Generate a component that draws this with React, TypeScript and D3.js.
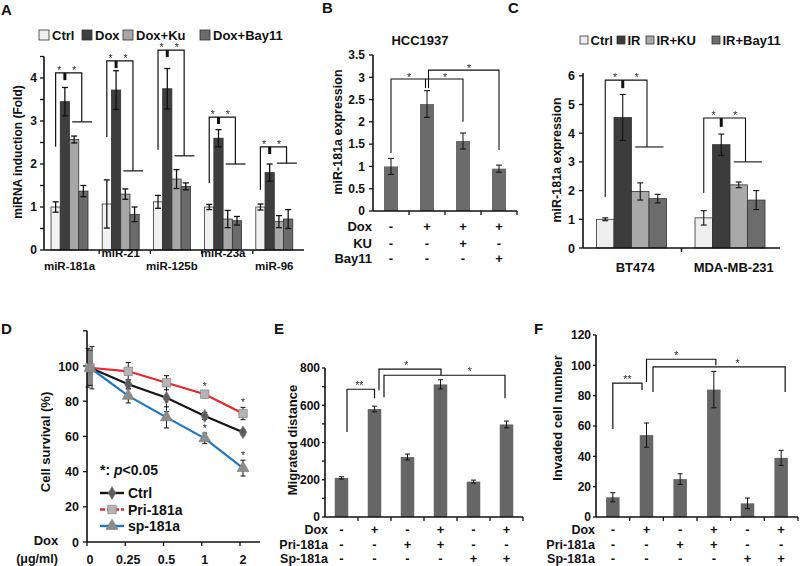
import React from "react";
import * as d3 from "d3";

const FONT = "'Liberation Sans', Arial, Helvetica, sans-serif";

// ---------- Panel A data ----------
const aGroups = ["miR-181a", "miR-21", "miR-125b", "miR-23a", "miR-96"];
const aSeries = ["Ctrl", "Dox", "Dox+Ku", "Dox+Bay11"];
const aCtrl = [1.0, 1.07, 1.12, 1.0, 1.0];
const aDox = [3.45, 3.72, 3.75, 2.6, 1.8];
const aKu = [2.57, 1.3, 1.65, 0.72, 0.66];
const aBay = [1.37, 0.83, 1.48, 0.68, 0.72];
const aCtrlErr = [0.12, 0.56, 0.15, 0.06, 0.07];
const aDoxErr = [0.33, 0.45, 0.47, 0.2, 0.2];
const aKuErr = [0.08, 0.12, 0.22, 0.2, 0.14];
const aBayErr = [0.13, 0.17, 0.08, 0.1, 0.22];
const aTicks = [0, 1, 2, 3, 4];
// significance bracket levels (data units)
const aBrTop = [4.12, 4.4, 4.65, 3.09, 2.4];
const aBrLeft = [2.4, 2.63, 2.33, 1.56, 1.4];
const aBrDash = [3.95, 4.23, 4.49, 2.93, 2.23];
const aBrRight = [2.98, 1.84, 2.19, 2.0, 2.02];

// ---------- Panel B data ----------
const bMeans = [1.0, 2.4, 1.57, 0.95];
const bErr = [0.18, 0.3, 0.18, 0.08];
const bDox = ["-", "+", "+", "+"];
const bKU = ["-", "-", "+", "-"];
const bBay = ["-", "-", "-", "+"];
const bTicks = [0, 0.5, 1, 1.5, 2, 2.5, 3, 3.5];

// ---------- Panel C data ----------
const cGroups = ["BT474", "MDA-MB-231"];
const cSeries = ["Ctrl", "IR", "IR+KU", "IR+Bay11"];
const cCtrl = [1.0, 1.05];
const cIR = [4.55, 3.6];
const cKU = [1.97, 2.2];
const cBay = [1.72, 1.67];
const cCtrlErr = [0.05, 0.25];
const cIRErr = [0.8, 0.37];
const cKUErr = [0.3, 0.1];
const cBayErr = [0.15, 0.33];
const cTicks = [0, 1, 2, 3, 4, 5, 6];
const cBrTop = [5.85, 4.53];
const cBrLeft = [1.78, 1.92];
const cBrDash = [5.57, 4.22];
const cBrRight = [3.52, 3.0];

// ---------- Panel D data ----------
const dDoses = ["0", "0.25", "0.5", "1", "2"];
const dCtrl = [99, 89.6, 82, 71.6, 62.3];
const dPri = [99, 97, 90.5, 84, 73];
const dSp = [99, 83, 70.8, 58.9, 42];
const dCtrlErr = [11, 2.5, 8, 2, 1.5];
const dPriErr = [10, 5, 4, 2, 3.5];
const dSpErr = [12, 4, 6, 3, 4.5];
const dTicks = [0, 20, 40, 60, 80, 100, 120];

// ---------- Panel E data ----------
const eMeans = [210, 580, 322, 712, 190, 497];
const eErr = [6, 15, 16, 25, 8, 18];
const eTicks = [0, 200, 400, 600, 800];
// ---------- Panel F data ----------
const fMeans = [13, 54, 25, 84, 9, 39];
const fErr = [3, 8, 3.5, 12, 3.5, 5];
const fTicks = [0, 20, 40, 60, 80, 100, 120];
// shared condition rows for E, F
const efDox = ["-", "+", "-", "+", "-", "+"];
const efPri = ["-", "-", "+", "+", "-", "-"];
const efSp = ["-", "-", "-", "-", "+", "+"];

const eBrackets = [
  { a: 0, ao: 5.5, b: 1, bo: 0, top: 686, ya: 456, yb: 638, label: "**", f: 0.45 },
  { a: 1, ao: 4.5, b: 3, bo: 0.5, top: 794, ya: 681, yb: 761, label: "*", f: 0.44 },
  { a: 1, ao: 9.5, b: 5, bo: -1.5, top: 761, ya: 643, yb: 638, label: "*", f: 0.71 },
];
const fBrackets = [
  { a: 0, ao: 0, b: 1, bo: -4.5, top: 88.3, ya: 58, yb: 83.7, label: "**", f: 0.5 },
  { a: 1, ao: 0, b: 3, bo: 2, top: 104, ya: 89, yb: 100, label: "*", f: 0.43 },
  { a: 1, ao: 6.5, b: 5, bo: 4, top: 99, ya: 82.4, yb: 82.4, label: "*", f: 0.64 },
];

const INK = "#111";

function ErrBar({ x, y1, y2, cap = 3, w = 1.2 }: any) {
  return (
    <g stroke={INK} strokeWidth={w}>
      <line x1={x} x2={x} y1={y1} y2={y2} />
      <line x1={x - cap} x2={x + cap} y1={y1} y2={y1} />
      <line x1={x - cap} x2={x + cap} y1={y2} y2={y2} />
    </g>
  );
}

function Star({ x, y, text = "*", size = 10.5 }: any) {
  // y is visual centre of the asterisk; group opacity gives grey-scale antialiasing
  return (
    <g opacity={0.98}>
      <text
        x={x}
        y={y + size * 0.57}
        fontSize={size}
        textAnchor="middle"
        fill="#2a2a2a"
        stroke="none"
        fontFamily={FONT}
        style={{ filter: "grayscale(1)" }}
      >
        {text}
      </text>
    </g>
  );
}

function VLabel({ x, y, text, size }: any) {
  return (
    <text
      transform={`translate(${x},${y}) rotate(-90)`}
      textAnchor="middle"
      dy="0.35em"
      fontSize={size}
      fontWeight="bold"
      fill={INK}
    >
      {text}
    </text>
  );
}

function PanelLetter({ x, y, t }: any) {
  return (
    <text x={x} y={y} fontSize={15} fontWeight="bold" fill={INK}>
      {t}
    </text>
  );
}

function YAxis({ x, y, ticks, labels, minor, label = true, fmt = (d: any) => String(d), tl = 4, lx = 6, fs = 12 }: any) {
  const [d0, d1] = y.domain();
  return (
    <g>
      <line x1={x} x2={x} y1={y(d0)} y2={y(d1)} stroke={INK} strokeWidth={1.6} />
      {(minor || ticks).map((t: number) => (
        <line key={"m" + t} x1={x - tl} x2={x} y1={y(t)} y2={y(t)} stroke={INK} strokeWidth={1.3} />
      ))}
      {label &&
        (labels || ticks).map((t: number) => (
          <text key={"l" + t} x={x - lx} y={y(t)} dy="0.36em" textAnchor="end" fontSize={fs} fontWeight="bold" fill={INK}>
            {fmt(t)}
          </text>
        ))}
    </g>
  );
}

// ---------------- Panel A ----------------
function PanelA() {
  const x0 = d3.scaleBand<string>().domain(aGroups).range([48, 304]);
  const x1 = d3.scaleBand<string>().domain(aSeries).range([3, 40]);
  const y = d3.scaleLinear().domain([0, 4.5]).range([250, 56.5]);
  const vals = [aCtrl, aDox, aKu, aBay];
  const errs = [aCtrlErr, aDoxErr, aKuErr, aBayErr];
  const fills = ["#f1f1f1", "#3e3e3e", "#a7a7a7", "#6b6b6b"];
  const bw = x1.bandwidth();
  const legX = [39, 82, 123, 200];
  return (
    <g>
      <PanelLetter x={1} y={15} t="A" />
      {aSeries.map((s, i) => (
        <g key={s}>
          <rect x={legX[i]} y={30} width={10} height={10} fill={fills[i]} stroke="#333" strokeWidth={0.8} />
          <text x={legX[i] + 13} y={39.5} fontSize={13} fontWeight="bold" fill={INK}>
            {s}
          </text>
        </g>
      ))}
      <VLabel x={18} y={152} text="miRNA induction (Fold)" size={12} />
      {aGroups.map((g, gi) => (
        <g key={g}>
          {aSeries.map((s, si) => {
            const v = vals[si][gi];
            const e = errs[si][gi];
            const bx = x0(g)! + x1(s)!;
            return (
              <g key={s}>
                <rect x={bx} y={y(v)} width={bw} height={y(0) - y(v)} fill={fills[si]} stroke="#333" strokeWidth={0.8} />
                <ErrBar x={bx + bw / 2} y1={y(v + e)} y2={y(v - e)} cap={3} w={1.3} />
              </g>
            );
          })}
        </g>
      ))}
      <YAxis x={44} y={y} ticks={aTicks} minor={d3.range(0, 4.51, 0.5)} lx={7} fs={12} />
      <line x1={44} x2={304} y1={y(0)} y2={y(0)} stroke={INK} strokeWidth={1.6} />
      {aGroups.slice(0, -1).map((g) => (
        <line key={g} x1={x0(g)! + x0.bandwidth()} x2={x0(g)! + x0.bandwidth()} y1={y(0)} y2={y(0) + 4} stroke={INK} strokeWidth={1.3} />
      ))}
      {aGroups.map((g, gi) => {
        const xl = x0(g)! + x1("Ctrl")! + bw / 2;
        const xd = x0(g)! + x1("Dox")! + bw / 2;
        const xr = x0(g)! + x1("Dox+Bay11")! + 3;
        const s1 = x0(g)! + x1("Dox+Ku")! + bw / 2 - 2;
        const s2 = x0(g)! + x1("Dox+Bay11")! + bw + 4;
        const yt = y(aBrTop[gi]);
        return (
          <g key={g} fill="none" stroke={INK} strokeWidth={1.2}>
            <path d={`M${xl},${y(aBrLeft[gi])}V${yt}H${xr}V${y(aBrRight[gi])}`} />
            <line x1={xd} x2={xd} y1={yt} y2={y(aBrDash[gi])} strokeWidth={3} />
            <line x1={s1} x2={s2} y1={y(aBrRight[gi])} y2={y(aBrRight[gi])} />
            <Star x={(xl + xd) / 2 - 1} y={yt - 5} />
            <Star x={(xd + xr) / 2 + 1} y={yt - 5} />
          </g>
        );
      })}
      {aGroups.map((g, gi) => (
        <text
          key={g}
          x={x0(g)! + 21.5}
          y={gi % 2 === 0 ? 270 : 257}
          textAnchor="middle"
          fontSize={11.5}
          fontWeight="bold"
          fill={INK}
        >
          {g}
        </text>
      ))}
    </g>
  );
}

// ---------------- Panel B ----------------
function PanelB() {
  const cats = bMeans.map((_, i) => String(i));
  const x = d3.scaleBand<string>().domain(cats).range([373, 517]);
  const y = d3.scaleLinear().domain([0, 3.5]).range([211, 55]);
  const bw = 14;
  const cx = (i: number) => x(String(i))! + x.bandwidth() / 2;
  const rows = [
    { name: "Dox", v: bDox, y: 230.5 },
    { name: "KU", v: bKU, y: 247.5 },
    { name: "Bay11", v: bBay, y: 262.5 },
  ];
  const t1 = y(2.96);
  const t2 = y(3.16);
  return (
    <g>
      <PanelLetter x={322} y={13} t="B" />
      <text x={420} y={45} textAnchor="middle" fontSize={13} fontWeight="bold" fill={INK}>
        HCC1937
      </text>
      <VLabel x={338} y={132} text="miR-181a expression" size={12.5} />
      {bMeans.map((v, i) => (
        <g key={i}>
          <rect x={cx(i) - bw / 2} y={y(v)} width={bw} height={y(0) - y(v)} fill="#6b6b6b" />
          <ErrBar x={cx(i)} y1={y(v + bErr[i])} y2={y(v - bErr[i])} cap={3} w={1} />
        </g>
      ))}
      <YAxis x={373} y={y} ticks={bTicks} lx={8} fs={12} fmt={(d: number) => String(d)} />
      <line x1={373} x2={517} y1={y(0)} y2={y(0)} stroke={INK} strokeWidth={1.6} />
      {cats.map((c) => (
        <line key={c} x1={x(c)! + x.bandwidth()} x2={x(c)! + x.bandwidth()} y1={y(0)} y2={y(0) + 4} stroke={INK} strokeWidth={1.3} />
      ))}
      <g fill="none" stroke={INK} strokeWidth={1.1}>
        <path d={`M${cx(0)},${y(1.3)}V${t1}H${cx(1) - 1.5}V${y(2.76)}`} />
        <path d={`M${cx(1) - 1.5},${t1}H${cx(2)}V${y(2.0)}`} />
        <path d={`M${cx(1) + 1.5},${y(2.76)}V${t2}H${cx(3)}V${y(1.37)}`} />
      </g>
      <Star x={(cx(0) + cx(1)) / 2} y={t1 - 4} />
      <Star x={(cx(1) + cx(2)) / 2} y={t1 - 4} />
      <Star x={(cx(1) + cx(3)) / 2 + 6} y={t2 - 4} />
      {rows.map((r) => (
        <g key={r.name}>
          <text x={372} y={r.y} textAnchor="end" fontSize={13} fontWeight="bold" fill={INK}>
            {r.name}
          </text>
          {r.v.map((s, i) => (
            <text key={i} x={cx(i)} y={r.y} textAnchor="middle" fontSize={13} fontWeight="bold" fill={INK}>
              {s}
            </text>
          ))}
        </g>
      ))}
    </g>
  );
}

// ---------------- Panel C ----------------
function PanelC() {
  const x0 = d3.scaleBand<string>().domain(cGroups).range([583, 780]);
  const x1 = d3.scaleBand<string>().domain(cSeries).range([13.5, 83.5]);
  const y = d3.scaleLinear().domain([0, 6.1]).range([248, 248 - 6.1 * 28.7]);
  const vals = [cCtrl, cIR, cKU, cBay];
  const errs = [cCtrlErr, cIRErr, cKUErr, cBayErr];
  const fills = ["#efefef", "#3c3c3c", "#a9a9a9", "#6c6c6c"];
  const bw = x1.bandwidth();
  const legX = [580, 617, 646, 712];
  return (
    <g>
      <PanelLetter x={508} y={13} t="C" />
      {cSeries.map((s, i) => (
        <g key={s}>
          <rect x={legX[i]} y={36} width={8} height={8} fill={fills[i]} stroke="#333" strokeWidth={0.8} />
          <text x={legX[i] + 10.5} y={44.5} fontSize={13} fontWeight="bold" fill={INK}>
            {s}
          </text>
        </g>
      ))}
      <VLabel x={557} y={160} text="miR-181a expression" size={12.5} />
      {cGroups.map((g, gi) => (
        <g key={g}>
          {cSeries.map((s, si) => {
            const v = vals[si][gi];
            const e = errs[si][gi];
            const bx = x0(g)! + x1(s)!;
            return (
              <g key={s}>
                <rect x={bx} y={y(v)} width={bw} height={y(0) - y(v)} fill={fills[si]} stroke="#333" strokeWidth={0.8} />
                <ErrBar x={bx + bw / 2} y1={y(v + e)} y2={y(v - e)} cap={3} w={1.1} />
              </g>
            );
          })}
        </g>
      ))}
      <YAxis x={583} y={y} ticks={cTicks} lx={8} fs={12.5} />
      <line x1={583} x2={780} y1={y(0)} y2={y(0)} stroke={INK} strokeWidth={1.6} />
      <line x1={x0("BT474")! + x0.bandwidth()} x2={x0("BT474")! + x0.bandwidth()} y1={y(0)} y2={y(0) + 4} stroke={INK} strokeWidth={1.5} />
      {cGroups.map((g, gi) => {
        const xl = x0(g)! + x1("Ctrl")! + bw / 2;
        const xd = x0(g)! + x1("IR")! + bw / 2;
        const xr = x0(g)! + x1("IR+Bay11")! - 2;
        const s1 = x0(g)! + x1("IR+KU")! + bw / 2 - 5;
        const s2 = x0(g)! + x1("IR+Bay11")! + bw - 3;
        const yt = y(cBrTop[gi]);
        return (
          <g key={g} fill="none" stroke={INK} strokeWidth={1.1}>
            <path d={`M${xl},${y(cBrLeft[gi])}V${yt}H${xr}V${y(cBrRight[gi])}`} />
            <line x1={xd} x2={xd} y1={yt} y2={y(cBrDash[gi])} strokeWidth={3} />
            <line x1={s1} x2={s2} y1={y(cBrRight[gi])} y2={y(cBrRight[gi])} />
            <Star x={(xl + xd) / 2 + 1} y={yt - 5} />
            <Star x={(xd + xr) / 2 + 2} y={yt - 5} />
          </g>
        );
      })}
      {cGroups.map((g) => (
        <text key={g} x={x0(g)! + x0.bandwidth() / 2 + 3} y={272} textAnchor="middle" fontSize={13} fontWeight="bold" fill={INK}>
          {g}
        </text>
      ))}
    </g>
  );
}

// ---------------- Panel D ----------------
function PanelD() {
  const x = d3.scalePoint<string>().domain(dDoses).range([90, 243]);
  const y = d3.scaleLinear().domain([0, 120]).range([542, 542 - 120 * 1.76]);
  const line = d3
    .line<number>()
    .x((_, i) => x(dDoses[i])!)
    .y((d) => y(d));
  const diamond = d3.symbol().type(d3.symbolDiamond).size(48)()!;
  const square = d3.symbol().type(d3.symbolSquare).size(72)()!;
  const tri = d3.symbol().type(d3.symbolTriangle).size(62)()!;
  const series = [
    { name: "Ctrl", v: dCtrl, e: dCtrlErr, color: "#141414", mark: diamond, mfill: "#5c5c5c" },
    { name: "Pri-181a", v: dPri, e: dPriErr, color: "#e8262b", mark: square, mfill: "#b5b5b5" },
    { name: "sp-181a", v: dSp, e: dSpErr, color: "#1f77c2", mark: tri, mfill: "#8d8d8d" },
  ];
  const stars = [
    { s: 1, i: 3 },
    { s: 1, i: 4 },
    { s: 2, i: 3 },
    { s: 2, i: 4 },
  ];
  return (
    <g>
      <PanelLetter x={1} y={334} t="D" />
      <VLabel x={45} y={442} text="Cell survival (%)" size={13} />
      <YAxis x={87} y={y} ticks={dTicks} labels={[0, 20, 40, 60, 80, 100]} lx={8} fs={12.5} />
      <line x1={87} x2={260} y1={y(0)} y2={y(0)} stroke={INK} strokeWidth={1.6} />
      {dDoses.map((d) => (
        <g key={d}>
          <line x1={x(d)! - 3} x2={x(d)! - 3} y1={y(0)} y2={y(0) + 4} stroke={INK} strokeWidth={1.3} />
          <text x={x(d)!} y={564} textAnchor="middle" fontSize={12.5} fontWeight="bold" fill={INK}>
            {d}
          </text>
        </g>
      ))}
      <text x={46} y={544.5} textAnchor="middle" fontSize={13} fontWeight="bold" fill={INK}>
        Dox
      </text>
      <text x={37} y={562.5} textAnchor="middle" fontSize={12.5} fontWeight="bold" fill={INK}>
        (μg/ml)
      </text>
      {series.map((s) => (
        <path key={s.name} d={line(s.v)!} fill="none" stroke={s.color} strokeWidth={2.2} />
      ))}
      {series.map((s) =>
        s.v.map((v, i) => (
          <ErrBar key={s.name + i} x={x(dDoses[i])! + (i === 0 ? (s.name === "Ctrl" ? -2 : s.name === "sp-181a" ? 2 : 0) : 0)} y1={y(v + s.e[i])} y2={y(v - s.e[i])} cap={2.5} w={1} />
        ))
      )}
      {series.map((s) =>
        s.v.map((v, i) => (
          <path key={s.name + "m" + i} d={s.mark} transform={`translate(${x(dDoses[i])},${y(v)})`} fill={s.mfill} stroke="#777" strokeWidth={0.6} />
        ))
      )}
      {stars.map((st, k) => {
        const s = series[st.s];
        return <Star key={k} x={x(dDoses[st.i])!} y={y(s.v[st.i] + s.e[st.i]) - 7} size={10.5} />;
      })}
      <text x={100} y={475} fontSize={14} fontWeight="bold" fill={INK}>
        *: <tspan fontStyle="italic">p</tspan>&lt;0.05
      </text>
      {series.map((s, k) => {
        const ly = 493 + k * 16.5;
        return (
          <g key={s.name}>
            <line x1={100} x2={124} y1={ly} y2={ly} stroke={s.color} strokeWidth={2.4} strokeDasharray={k === 1 ? "5,2" : undefined} />
            <path d={s.mark} transform={`translate(112,${ly})`} fill={s.mfill} stroke="#777" strokeWidth={0.6} />
            <text x={128} y={ly + 5} fontSize={14} fontWeight="bold" fill={INK}>
              {s.name}
            </text>
          </g>
        );
      })}
    </g>
  );
}

// ---------------- Panels E & F ----------------
function ConditionBars({ letter, axisX, axisR, yMax, yRange, means, errs, ticks, minor, brackets, ylab, ylabX, ylabY, rowRight, letterX }: any) {
  const cats = means.map((_: any, i: number) => String(i));
  const x = d3.scaleBand<string>().domain(cats).range([axisX, axisR]);
  const y = d3.scaleLinear().domain([0, yMax]).range(yRange);
  const bw = 13.5;
  const cx = (i: number) => x(String(i))! + x.bandwidth() / 2;
  const rows = [
    { name: "Dox", v: efDox, y: 534 },
    { name: "Pri-181a", v: efPri, y: 548.5 },
    { name: "Sp-181a", v: efSp, y: 562.5 },
  ];
  return (
    <g>
      <PanelLetter x={letterX} y={334} t={letter} />
      <VLabel x={ylabX} y={ylabY} text={ylab} size={13} />
      {means.map((v: number, i: number) => (
        <g key={i}>
          <rect x={cx(i) - bw / 2} y={y(v)} width={bw} height={y(0) - y(v)} fill="#666666" />
          <ErrBar x={cx(i)} y1={y(v + errs[i])} y2={y(v - errs[i])} cap={2.5} w={1} />
        </g>
      ))}
      <YAxis x={axisX} y={y} ticks={ticks} minor={minor} tl={3} lx={5} fs={12} />
      <line x1={axisX} x2={axisR} y1={y(0)} y2={y(0)} stroke={INK} strokeWidth={1.6} />
      {cats.map((c: string) => (
        <line key={c} x1={x(c)! + x.bandwidth()} x2={x(c)! + x.bandwidth()} y1={y(0)} y2={y(0) + 4} stroke={INK} strokeWidth={1.3} />
      ))}
      {brackets.map((b: any, k: number) => {
        const xa = cx(b.a) + b.ao;
        const xb = cx(b.b) + b.bo;
        const yt = y(b.top);
        return (
          <g key={k}>
            <path d={`M${xa},${y(b.ya)}V${yt}H${xb}V${y(b.yb)}`} fill="none" stroke={INK} strokeWidth={1.2} />
            <Star x={xa + (xb - xa) * b.f} y={yt - 6} text={b.label} size={10.5} />
          </g>
        );
      })}
      {rows.map((r) => (
        <g key={r.name}>
          <text x={rowRight} y={r.y} textAnchor="end" fontSize={12.5} fontWeight="bold" fill={INK}>
            {r.name}
          </text>
          {r.v.map((s: string, i: number) => (
            <text key={i} x={cx(i)} y={r.y} textAnchor="middle" fontSize={13} fontWeight="bold" fill={INK}>
              {s}
            </text>
          ))}
        </g>
      ))}
    </g>
  );
}

export default function App() {
  return (
    <svg
      width={800}
      height={566}
      style={{ position: "absolute", left: 0, top: 0, background: "#fff" }}
      fontFamily={FONT}
    >
      <rect width={800} height={566} fill="#fff" />
      <PanelA />
      <PanelB />
      <PanelC />
      <PanelD />
      <ConditionBars
        letter="E"
        letterX={274}
        axisX={325}
        axisR={523}
        yMax={800}
        yRange={[517, 368]}
        means={eMeans}
        errs={eErr}
        ticks={eTicks}
        minor={d3.range(0, 801, 100)}
        brackets={eBrackets}
        ylab="Migrated distance"
        ylabX={292}
        ylabY={440}
        rowRight={328}
      />
      <ConditionBars
        letter="F"
        letterX={534}
        axisX={596}
        axisR={798}
        yMax={120}
        yRange={[517, 335]}
        means={fMeans}
        errs={fErr}
        ticks={fTicks}
        minor={fTicks}
        brackets={fBrackets}
        ylab="Invaded cell number"
        ylabX={557}
        ylabY={418}
        rowRight={595}
      />
    </svg>
  );
}
